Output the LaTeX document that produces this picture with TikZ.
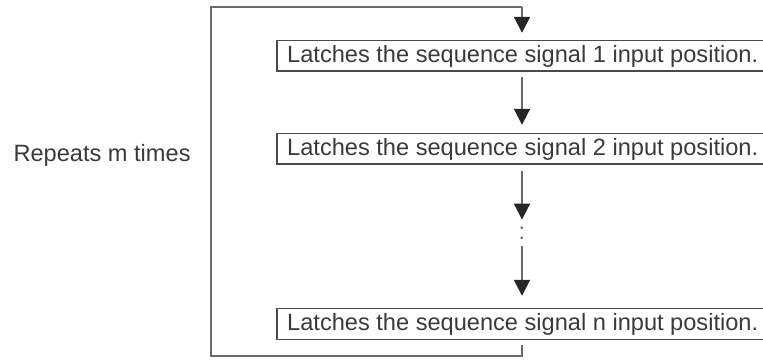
\documentclass[tikz,border=0pt]{standalone}
\usepackage{fontspec}
\setmainfont{Liberation Sans}
\usetikzlibrary{arrows.meta}
\definecolor{txt}{HTML}{3A3A3A}
\definecolor{ln}{HTML}{6A6A6A}
\definecolor{bx}{HTML}{4A4A4A}
\begin{document}
\begin{tikzpicture}[x=1pt,y=-1pt,
  lbl/.style={font=\fontsize{23.6pt}{28pt}\selectfont, text=txt},
  steptext/.style={lbl, anchor=west, inner xsep=0pt, minimum height=30pt},
  boxline/.style={draw=bx, line width=1.4pt},
  loopline/.style={draw=ln, line width=2pt},
  flow/.style={draw=ln, line width=2pt, -{Triangle[length=16pt,width=16pt,color=black!85]}}
]
\useasboundingbox (0,0) rectangle (763,363);
\clip (0,0) rectangle (763,363);
\node[steptext] (b1) at (287,56) {Latches the sequence signal 1 input position.};
\node[steptext] (b2) at (287,149) {Latches the sequence signal 2 input position.};
\node[steptext] (b3) at (287,324) {Latches the sequence signal n input position.};
\foreach \b in {b1,b2,b3}
  \draw[boxline] ([xshift=-10pt]\b.north west) rectangle ([xshift=30pt]\b.south east);
\node[lbl, anchor=west] (rep) at (10,155) {Repeats m times};
\node[lbl, text=ln, inner sep=0pt] (dots) at (522,233) {:};
\coordinate (top) at (522,7);
\coordinate (tl) at (211,7);
\coordinate (bl) at (211,356);
\coordinate (bot) at (522,356);
\draw[flow] (top) -- ([yshift=8pt]b1.north -| top);
\draw[flow] ([yshift=-6pt]b1.south -| top) -- ([yshift=9pt]b2.north -| top);
\draw[flow] ([yshift=-7pt]b2.south -| top) -- ([yshift=7pt]dots.north);
\draw[flow] ([yshift=-7pt]dots.south) -- ([yshift=13pt]b3.north -| top);
\draw[loopline] ([yshift=-6pt]b3.south -| top) -- (bot) -- (bl) -- (tl) -- (top);
\end{tikzpicture}
\end{document}
